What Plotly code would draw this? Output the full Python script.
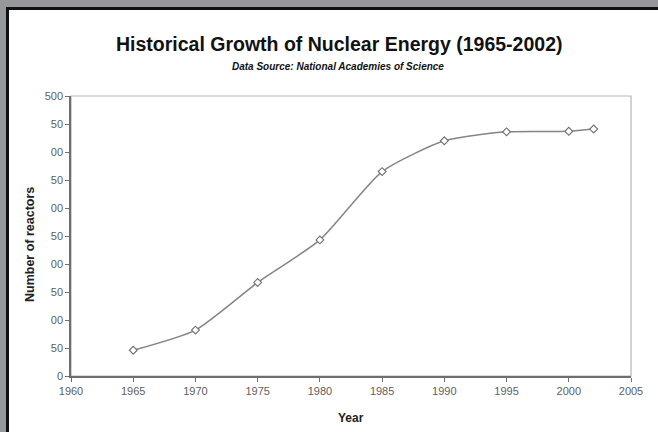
import plotly.graph_objects as go

# Operating nuclear reactors by year
years = [1965, 1970, 1975, 1980, 1985, 1990, 1995, 2000, 2002]
reactors = [46, 82, 167, 243, 365, 420, 436, 437, 441]

y_tick_values = [0, 50, 100, 150, 200, 250, 300, 350, 400, 450, 500]
y_tick_labels = ["0", "50", "00", "50", "00", "50", "00", "50", "00", "50", "500"]
x_tick_values = [1960, 1965, 1970, 1975, 1980, 1985, 1990, 1995, 2000, 2005]

W, H = 658, 432
L, R, T, B = 71, 27, 96, 56
pw, ph = W - L - R, H - T - B


def px_x(p):
    return (p - L) / pw


def px_y(p):
    return (H - B - p) / ph


fig = go.Figure()
fig.add_trace(go.Scatter(
    x=years, y=reactors, mode="lines+markers",
    line=dict(color="#858585", width=1.5, shape="spline", smoothing=0.6),
    marker=dict(symbol="diamond", size=6, color="white",
                line=dict(color="#707070", width=1.1)),
    showlegend=False, hoverinfo="x+y",
))

font_main = "Liberation Sans, Arial, sans-serif"
tick_grey = "#606060"

fig.update_layout(
    template="none",
    width=W, height=H,
    margin=dict(l=L, r=R, t=T, b=B, pad=0),
    paper_bgcolor="white", plot_bgcolor="white",
    font=dict(family=font_main, color=tick_grey, size=11),
    xaxis=dict(range=[1960, 2005], tickvals=x_tick_values,
               showgrid=False, zeroline=False, showline=True,
               linecolor="#6e6e6e", linewidth=1.5,
               ticks="outside", ticklen=4, tickcolor="#6e6e6e",
               tickfont=dict(size=11, color=tick_grey)),
    yaxis=dict(range=[0, 500], tickvals=y_tick_values, ticktext=y_tick_labels,
               showgrid=False, zeroline=False, showline=True,
               linecolor="#6e6e6e", linewidth=1.5,
               ticks="outside", ticklen=4, tickcolor="#6e6e6e",
               tickfont=dict(size=11, color=tick_grey)),
    shapes=[
        # plot area border
        dict(type="rect", xref="paper", yref="paper", x0=0, x1=1, y0=0, y1=1,
             line=dict(color="#b5b5b5", width=1.2), layer="below"),
        # grey frame strips
        dict(type="rect", xref="paper", yref="paper",
             x0=px_x(-5), x1=px_x(W + 5), y0=px_y(7), y1=px_y(-5),
             line=dict(width=0), fillcolor="#97989c"),
        dict(type="rect", xref="paper", yref="paper",
             x0=px_x(-5), x1=px_x(6), y0=px_y(H + 5), y1=px_y(-5),
             line=dict(width=0), fillcolor="#97989c"),
        # black frame lines
        dict(type="rect", xref="paper", yref="paper",
             x0=px_x(6), x1=px_x(W + 5), y0=px_y(10), y1=px_y(7),
             line=dict(width=0), fillcolor="#111111"),
        dict(type="rect", xref="paper", yref="paper",
             x0=px_x(6), x1=px_x(9), y0=px_y(H + 5), y1=px_y(7),
             line=dict(width=0), fillcolor="#111111"),
    ],
    annotations=[
        dict(text="<b>Historical Growth of Nuclear Energy (1965-2002)</b>",
             xref="paper", yref="paper", x=px_x(339), y=px_y(44),
             xanchor="center", yanchor="middle", showarrow=False,
             font=dict(size=19.5, color="#111111", family=font_main)),
        dict(text="<b><i>Data Source: National Academies of Science</i></b>",
             xref="paper", yref="paper", x=px_x(338), y=px_y(67),
             xanchor="center", yanchor="middle", showarrow=False,
             font=dict(size=10, color="#111111",
                       family="Liberation Sans Narrow, Arial Narrow, sans-serif")),
        dict(text="<b>Number of reactors</b>",
             xref="paper", yref="paper", x=px_x(30), y=px_y(245),
             xanchor="center", yanchor="middle", showarrow=False, textangle=-90,
             font=dict(size=12.5, color="#222222", family=font_main)),
        dict(text="<b>Year</b>",
             xref="paper", yref="paper", x=px_x(351), y=px_y(418),
             xanchor="center", yanchor="middle", showarrow=False,
             font=dict(size=12, color="#222222", family=font_main)),
    ],
)

fig.write_html("out.html")
